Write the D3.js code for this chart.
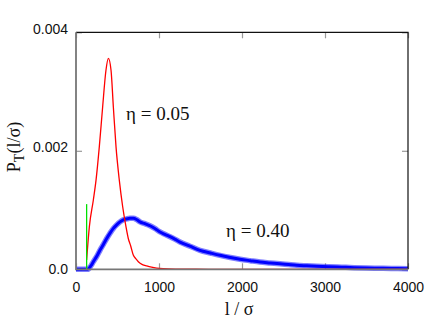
<!DOCTYPE html>
<html><head><meta charset="utf-8">
<script src="https://cdn.jsdelivr.net/npm/d3@7"></script>
<style>body{margin:0;background:#fff}svg{display:block}</style>
</head><body><svg id="c" width="442" height="334"></svg>
<script>
// eta = 0.05 (red)
const redL = [128, 161, 209, 241, 281, 321, 361, 390, 422, 450, 482, 522, 562, 602, 630, 660, 690, 720, 751, 800, 852, 910, 972, 1050, 1200, 1600, 2000, 3000, 4000];
const redP = [0.000157, 0.00072, 0.00117, 0.0015, 0.00207, 0.00274, 0.00336, 0.00356, 0.00336, 0.00274, 0.00207, 0.0015, 0.00106, 0.00072, 0.00052, 0.00039, 0.00024, 0.00018, 0.000128, 0.00008, 0.000056, 0.000035, 0.00002, 0.00001, 0.000003, 0, 0, 0, 0];
// eta = 0.40 (blue)
const blueL = [0, 140, 180, 210, 250, 290, 330, 370, 410, 450, 490, 530, 570, 610, 650, 690, 730, 771, 830, 892, 950, 1012, 1070, 1133, 1190, 1253, 1373, 1494, 1620, 1735, 1860, 1976, 2100, 2217, 2340, 2458, 2560, 2659, 2780, 2900, 3050, 3200, 3350, 3500, 3650, 3800, 4000];
const blueP = [0, 0, 0.00006, 0.00013, 0.00022, 0.000325, 0.00042, 0.00052, 0.00061, 0.00069, 0.00075, 0.0008, 0.000835, 0.00085, 0.00086, 0.00086, 0.00084, 0.0008, 0.00077, 0.000735, 0.00069, 0.00063, 0.00059, 0.00055, 0.00051, 0.00046, 0.00039, 0.00032, 0.000275, 0.000236, 0.0002, 0.00017, 0.000145, 0.000123, 0.000108, 0.000094, 0.00008, 0.000067, 0.000058, 0.00005, 0.000042, 0.000035, 0.000028, 0.000022, 0.000018, 0.000014, 0.00001];
// green marker
const greenL = [128, 128];
const greenP = [0, 0.0011];
const xTicks = [0, 1000, 2000, 3000, 4000];
const xTickLabels = ["0", "1000", "2000", "3000", "4000"];
const yTicks = [0, 0.002, 0.004];
const yTickLabels = ["0.0", "0.002", "0.004"];
const annotations = ["η = 0.05", "η = 0.40"];

const svg = d3.select("#c");
const L = 76, R = 408, T = 32.3, B = 269.3;
const x = d3.scaleLinear().domain([0, 4000]).range([L, R]);
const y = d3.scaleLinear().domain([0, 0.004]).range([B, T]);

const sans = "'Liberation Sans', Arial, Helvetica, sans-serif";
const serif = "'Liberation Serif', 'Times New Roman', serif";

// axes
const gx = svg.append("g").attr("transform", `translate(0,${B})`)
  .call(d3.axisBottom(x).tickValues(xTicks).tickFormat((d, i) => xTickLabels[i]).tickSizeInner(-6).tickSizeOuter(0).tickPadding(13));
const gxt = svg.append("g").attr("transform", `translate(0,${T})`)
  .call(d3.axisTop(x).tickValues(xTicks).tickFormat("").tickSizeInner(-6).tickSizeOuter(0));
const gy = svg.append("g").attr("transform", `translate(${L},0)`)
  .call(d3.axisLeft(y).tickValues(yTicks).tickFormat((d, i) => yTickLabels[i]).tickSizeInner(-6).tickSizeOuter(0).tickPadding(8));
const gyr = svg.append("g").attr("transform", `translate(${R},0)`)
  .call(d3.axisRight(y).tickValues(yTicks).tickFormat("").tickSizeInner(-6).tickSizeOuter(0));
[gx, gxt, gy, gyr].forEach(g => {
  g.select(".domain").remove();
  g.selectAll(".tick line").attr("stroke", "#999").attr("stroke-width", 1.2);
  g.selectAll(".tick text").attr("font-family", sans).attr("font-size", 14).attr("fill", "#111");
});
gy.selectAll(".tick text").attr("dy", d => d === 0 ? "0.32em" : "0.05em");

// lines
const line = d3.line().x(d => x(d[0])).y(d => y(d[1])).curve(d3.curveMonotoneX);
const blue = blueL.map((l, i) => [l, blueP[i]]);
const red = redL.map((l, i) => [l, redP[i]]);
svg.append("path").datum(blue).attr("d", line).attr("fill", "none")
  .attr("stroke", "#2a2aff").attr("stroke-width", 5.5).attr("stroke-opacity", 0.6);
svg.append("path").datum(blue).attr("d", line).attr("fill", "none")
  .attr("stroke", "#0000ff").attr("stroke-width", 3);
svg.append("path").datum(red).attr("d", line).attr("fill", "none")
  .attr("stroke", "#ff0000").attr("stroke-width", 1.3);
svg.append("line").attr("x1", x(greenL[0])).attr("x2", x(greenL[1]))
  .attr("y1", y(greenP[0])).attr("y2", y(greenP[1]))
  .attr("stroke", "#00e000").attr("stroke-width", 1.3);

// frame
svg.append("path").attr("d", `M${L},${T}H${R}V${B}`).attr("fill", "none").attr("stroke", "#111").attr("stroke-width", 1.2);
svg.append("path").attr("d", `M${L},${T}V${B}H${R}`).attr("fill", "none").attr("stroke", "#777").attr("stroke-width", 1.8);

// annotations
annotations.forEach((a, i) => {
  svg.append("text").attr("x", i === 0 ? 126 : 226).attr("y", i === 0 ? 120 : 236.5)
    .attr("font-family", serif).attr("font-size", 19).attr("fill", "#111").text(a);
});

// axis titles
svg.append("text").attr("x", 239).attr("y", 315).attr("text-anchor", "middle")
  .attr("font-family", serif).attr("font-size", 18).attr("fill", "#111").text("l / σ");
const yl = svg.append("text").attr("transform", "translate(20,147) rotate(-90)").attr("text-anchor", "middle")
  .attr("font-family", serif).attr("font-size", 18).attr("fill", "#111");
yl.append("tspan").text("P");
yl.append("tspan").attr("dy", 4).attr("font-size", 14).text("T");
yl.append("tspan").attr("dy", -4).text("(l/σ)");
</script>
</body></html>
